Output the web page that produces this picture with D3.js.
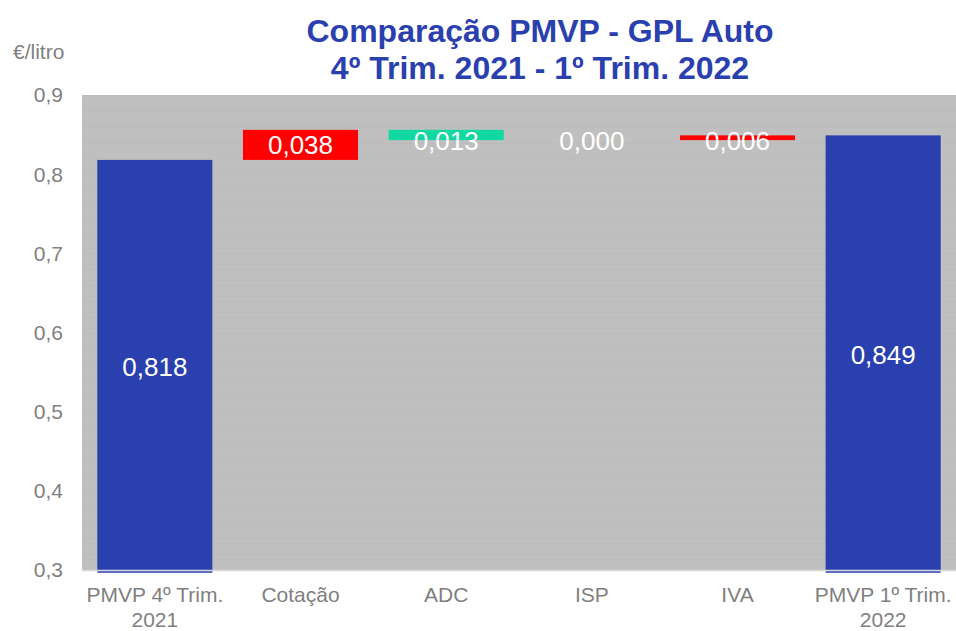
<!DOCTYPE html>
<html><head><meta charset="utf-8">
<script src="https://cdn.jsdelivr.net/npm/d3@7"></script>
<style>body{margin:0;background:#fff}svg{display:block}text{font-family:"Liberation Sans",Arial,sans-serif}</style>
</head><body><svg id="c" width="956" height="631"></svg>
<script>
const categories = [["PMVP 4º Trim.","2021"],["Cotação"],["ADC"],["ISP"],["IVA"],["PMVP 1º Trim.","2022"]];
const values = [0.818, 0.038, -0.013, 0.000, 0.006, 0.849];
const kinds = ["total","delta","delta","delta","delta","total"];
const labels = ["0,818","0,038","0,013","0,000","0,006","0,849"];
const yTicks = [0.3,0.4,0.5,0.6,0.7,0.8,0.9];
const gridTicks = d3.range(0.30,0.901,0.02);
const title = ["Comparação PMVP - GPL Auto","4º Trim. 2021 - 1º Trim. 2022"];
const unit = "€/litro";

const svg = d3.select("#c");
const L=82, R=956, T=95, B=570;
const x = d3.scaleBand().domain(d3.range(categories.length)).range([L,R]).paddingInner(0.21).paddingOuter(0.105);
const y = d3.scaleLinear().domain([0.3,0.9]).range([B,T]);

svg.append("rect").attr("x",L).attr("y",T).attr("width",R-L).attr("height",B-T).attr("fill","#bfbfbf");
svg.append("g").selectAll("line").data(gridTicks).join("line")
  .attr("x1",L).attr("x2",R).attr("y1",d=>Math.round(y(d))+0.5).attr("y2",d=>Math.round(y(d))+0.5)
  .attr("stroke","#bbbbbb").attr("stroke-width",1);

// compute waterfall
let run=0; const bars=[];
values.forEach((v,i)=>{
  if(kinds[i]==="total"){ bars.push({i,y0:0.3,y1:v,v,color:"#2940ae"}); run=v; }
  else { const s=run, e=run+v; bars.push({i,y0:Math.min(s,e),y1:Math.max(s,e),v,color: v<0?"#0fd8a0":"#ff0000"}); run=e; }
});

svg.append("g").selectAll("rect").data(bars).join("rect")
  .attr("x",d=>x(d.i)).attr("width",x.bandwidth())
  .attr("y",d=>y(d.y1)).attr("height",d=>Math.max(y(d.y0)-y(d.y1), d.y1===d.y0?0:3))
  .attr("fill",d=>d.color);

// baseline
svg.append("line").attr("x1",L).attr("x2",R).attr("y1",B+0.5).attr("y2",B+0.5).attr("stroke","#d9d9d9").attr("stroke-width",1.5);
svg.append("g").selectAll("line").data(bars.filter(d=>kinds[d.i]==="total")).join("line")
  .attr("x1",d=>x(d.i)).attr("x2",d=>x(d.i)+x.bandwidth()).attr("y1",B+2).attr("y2",B+2)
  .attr("stroke","#2940ae").attr("stroke-width",1.5);

// value labels
svg.append("g").selectAll("text").data(bars).join("text")
  .attr("x",d=>x(d.i)+x.bandwidth()/2)
  .attr("y",d=> kinds[d.i]==="total" ? (y(d.y1)+y(d.y0))/2+2 : Math.max((y(d.y1)+y(d.y0))/2, y(0.843)+1))
  .attr("dy","0.35em").attr("text-anchor","middle").attr("fill","#fff").attr("font-size",26)
  .text(d=>labels[d.i]);

// y axis labels
svg.append("g").selectAll("text").data(yTicks).join("text")
  .attr("x",63).attr("y",d=>y(d)).attr("dy","0.35em").attr("text-anchor","end")
  .attr("fill","#7f7f7f").attr("font-size",21).text(d=>d3.format(".1f")(d).replace(".",","));
svg.append("text").attr("x",13).attr("y",59).attr("fill","#7f7f7f").attr("font-size",21).text(unit);

// x labels
const xl = svg.append("g").selectAll("text").data(categories).join("text")
  .attr("x",(d,i)=>x(i)+x.bandwidth()/2).attr("y",602).attr("text-anchor","middle")
  .attr("fill","#7f7f7f").attr("font-size",21);
xl.selectAll("tspan").data(d=>d).join("tspan").attr("x",function(){return this.parentNode.getAttribute("x");})
  .attr("dy",(d,j)=>j?"1.2em":0).text(d=>d);

// title
svg.append("g").selectAll("text").data(title).join("text")
  .attr("x",540).attr("y",(d,i)=>42+i*37).attr("text-anchor","middle")
  .attr("fill","#2940ae").attr("font-size",32).attr("font-weight","bold").text(d=>d);
</script></body></html>
